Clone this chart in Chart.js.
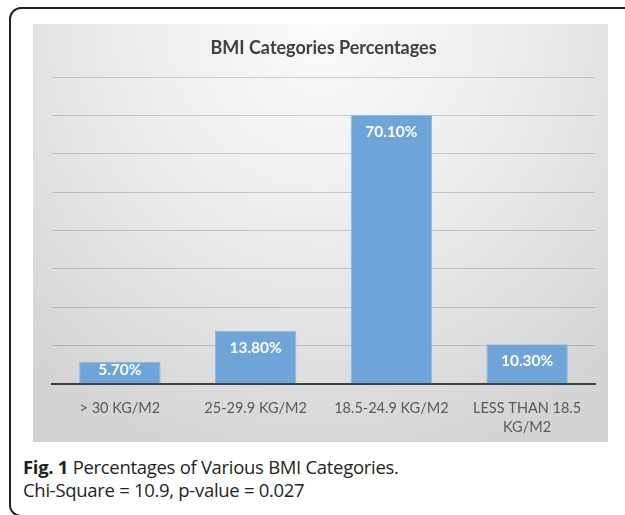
<!DOCTYPE html>
<html>
<head>
<meta charset="utf-8">
<script src="https://cdn.jsdelivr.net/npm/chart.js@4.4.1/dist/chart.umd.min.js"></script>
<style>
  html, body { margin:0; padding:0; background:#fff; width:625px; height:515px; overflow:hidden; }
  #frame { position:absolute; left:9px; top:7px; width:640px; height:510px; border:2px solid #222; border-radius:12px; box-sizing:border-box; }
  #panel { position:absolute; left:33px; top:24px; width:575px; height:418px;
    background: radial-gradient(ellipse 75% 110% at 50% 0%, #fbfbfb 0%, #ececec 45%, #d3d3d3 100%); }
  #canvasWrap { position:absolute; left:33px; top:24px; width:575px; height:428px; }
  #caption { position:absolute; left:23px; top:455px; font-family:"Open Sans", sans-serif; font-size:18.5px; line-height:23px; color:#231f20; letter-spacing:-0.3px; }
  #caption b { font-weight:700; }
</style>
</head>
<body>
<div id="frame"></div>
<div id="panel"></div>
<div id="canvasWrap"><canvas id="c" width="575" height="428"></canvas></div>
<div id="caption"><b>Fig. 1</b> Percentages of Various BMI Categories.<br>Chi-Square = 10.9, p-value = 0.027</div>
<script>
const categories = ['> 30 KG/M2', '25-29.9 KG/M2', '18.5-24.9 KG/M2', ['LESS THAN 18.5', 'KG/M2']];
const percentages = [5.7, 13.8, 70.1, 10.3];
const valueLabels = ['5.70%', '13.80%', '70.10%', '10.30%'];
const yTicks = [0, 10, 20, 30, 40, 50, 60, 70, 80];

const insideLabels = {
  id: 'insideLabels',
  afterDatasetsDraw(chart) {
    const ctx = chart.ctx;
    const meta = chart.getDatasetMeta(0);
    const yScale = chart.scales.y;
    const base = yScale.getPixelForValue(0);
    ctx.save();
    ctx.fillStyle = '#ffffff';
    ctx.font = 'bold 15.5px Lato, "Open Sans", sans-serif';
    ctx.textAlign = 'center';
    ctx.textBaseline = 'middle';
    meta.data.forEach((bar, i) => {
      const y = Math.min(bar.y + 17, base - 14);
      ctx.fillText(valueLabels[i], bar.x, y);
    });
    ctx.restore();
  }
};

new Chart(document.getElementById('c'), {
  type: 'bar',
  data: {
    labels: categories,
    datasets: [{
      data: percentages,
      backgroundColor: '#6fa4d8',
      borderColor: '#8ab8e4',
      borderWidth: 1,
      barPercentage: 0.6,
      categoryPercentage: 1.0
    }]
  },
  options: {
    responsive: false,
    animation: false,
    layout: { padding: { left: 19, right: 13, top: 0, bottom: 0 } },
    plugins: {
      legend: { display: false },
      tooltip: { enabled: false },
      title: {
        display: true,
        text: 'BMI Categories Percentages',
        color: '#404040',
        font: { family: 'Lato, "Open Sans", sans-serif', size: 18, weight: 'bold', lineHeight: 1.2 },
        padding: { top: 13, bottom: 18.4 }
      }
    },
    scales: {
      x: {
        grid: { display: false, drawTicks: false },
        border: { display: true, color: '#404040', width: 2 },
        ticks: {
          color: '#595959',
          padding: 16,
          maxRotation: 0,
          autoSkip: false,
          font: { family: 'Lato, "Open Sans", sans-serif', size: 14.5, lineHeight: 1.25 }
        }
      },
      y: {
        min: 0,
        max: 80,
        afterBuildTicks(scale) { scale.ticks = yTicks.map(v => ({ value: v })); },
        ticks: { display: false },
        border: { display: false },
        grid: {
          drawTicks: false,
          color: (c) => c.tick && c.tick.value === 0 ? 'rgba(0,0,0,0)' : 'rgba(0,0,0,0.16)',
          lineWidth: 1
        }
      }
    }
  },
  plugins: [insideLabels]
});
</script>
</body>
</html>
